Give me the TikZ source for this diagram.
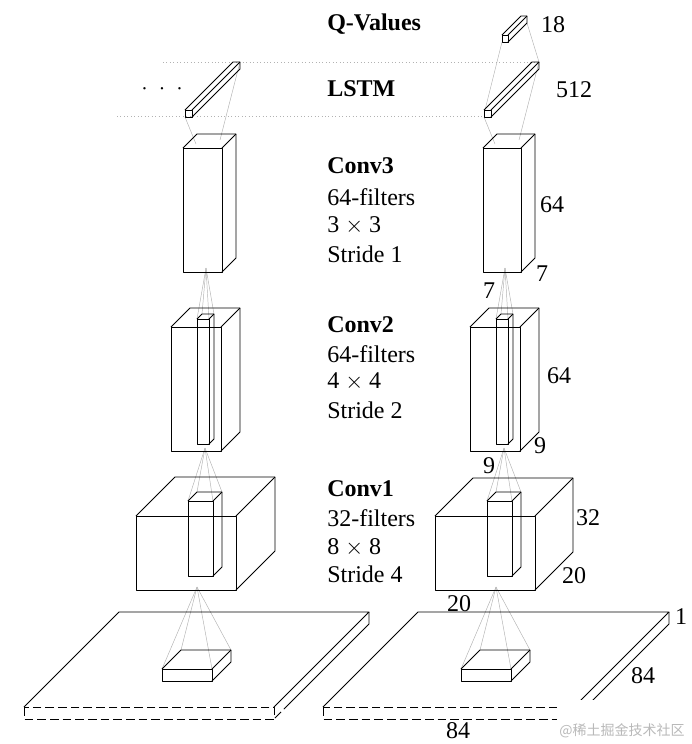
\documentclass[tikz,border=0pt]{standalone}
\usepackage{fontspec}
\setmainfont{Liberation Serif}
\newfontfamily\cjkwm{Noto Sans CJK SC}
\newcommand\cub[5]{%
  \draw[box] (#1,#2) rectangle ++(#3,#4);
  \draw[box] (#1,#2) -- ++(#5,-#5) -- ++(#3,0) -- ++(0,#4) -- ++(-#5,#5);
  \draw[box] (#1+#3,#2) -- ++(#5,-#5);
}
\newcommand\fan[6]{%
  \draw[proj] (#1,#2) -- (#3,#4);
  \draw[proj] (#1,#2) -- (#3+#5,#4);
  \draw[proj] (#1,#2) -- (#3+#6,#4-#6);
  \draw[proj] (#1,#2) -- (#3+#5+#6,#4-#6);
}
\newcommand\slab[2]{%
  \draw[box] (#1,707) -- ++(95,-95) -- ++(#2,0) -- ++(-95,95);
  \draw[box] (#1+#2+95,612) -- ++(0,12) -- ++(-79,79);
  \draw[box,dashes] (#1+#2+16,703) -- ++(-16,16);
  \draw[box,dashes] (#1,707) rectangle ++(#2,12);
}
\begin{document}
\begin{tikzpicture}[x=0.75pt,y=-0.75pt,
  box/.style={line width=0.65pt, line join=round},
  dashes/.style={dash pattern=on 6.5pt off 3pt},
  proj/.style={gray!60, line width=0.35pt},
  guide/.style={gray!60, dotted, line width=0.6pt},
  lbl/.style={font=\fontsize{18}{21}\selectfont, inner sep=0pt},
  ttl/.style={font=\fontsize{18}{21}\selectfont\bfseries, inner sep=0pt, anchor=west},
  txt/.style={font=\fontsize{18}{21}\selectfont, inner sep=0pt, anchor=west}]
\useasboundingbox (0,0) rectangle (692,744);

% guide lines for LSTM plane
\draw[guide] (163,62) -- (538,62);
\draw[guide] (117,116) -- (484,116);

% ---------- projection lines ----------
\foreach \s in {0,299}{
  \begin{scope}[xshift=\s*0.75pt]
    \fan{197}{587}{162}{669}{50}{19}
    \fan{205}{448}{188}{501}{25}{9}
    \fan{206}{268}{197}{319}{12}{5}
    \draw[proj] (185,117) -- (196,144);
    \draw[proj] (240,62) -- (220,140);
  \end{scope}
}
\draw[proj] (502,42) -- (485,110);
\draw[proj] (527,23) -- (539,62);

% ---------- left column ----------
\slab{24}{250}
\cub{162}{669}{50}{12}{19}
\cub{136}{516}{100}{74}{39}
\cub{188}{501}{25}{75}{9}
\cub{171}{327}{50}{124}{19}
\cub{197}{319}{12}{125}{5}
\cub{183}{148}{39}{124}{14}
\cub{185}{110}{7}{7}{48}

% ---------- right column ----------
\slab{323}{251}
\cub{461}{669}{50}{12}{19}
\cub{435}{516}{100}{74}{38}
\cub{487}{501}{25}{75}{9}
\cub{470}{327}{50}{124}{19}
\cub{496}{319}{12}{125}{5}
\cub{483}{148}{38}{124}{14}
\cub{484}{110}{7}{7}{48}
\cub{502}{35}{6}{7}{19}

% ---------- labels ----------
\node[ttl] (qv) at (327,24) {Q-Values};
\node[ttl] (lstm) at (327,89) {LSTM};
\node[lbl] (dots) at (162,89) {$\cdot\ \cdot\ \cdot$};

\node[ttl] (c3) at (327,166) {Conv3};
\node[txt] (c3a) at (327,197) {64-filters};
\node[txt] (c3b) at (327,226) {3 $\times$ 3};
\node[txt] (c3c) at (327,254) {Stride 1};

\node[ttl] (c2) at (327,325) {Conv2};
\node[txt] (c2a) at (327,354) {64-filters};
\node[txt] (c2b) at (327,382) {4 $\times$ 4};
\node[txt] (c2c) at (327,410) {Stride 2};

\node[ttl] (c1) at (327,489) {Conv1};
\node[txt] (c1a) at (327,518) {32-filters};
\node[txt] (c1b) at (327,547) {8 $\times$ 8};
\node[txt] (c1c) at (327,574) {Stride 4};

\node[lbl] (n18) at (553,25) {18};
\node[lbl] (n512) at (574,90) {512};
\node[lbl] (n64a) at (552,205) {64};
\node[lbl] (n7a) at (542,274) {7};
\node[lbl] (n7b) at (489,291) {7};
\node[lbl] (n64b) at (559,376) {64};
\node[lbl] (n9a) at (540,446) {9};
\node[lbl] (n9b) at (489,466) {9};
\node[lbl] (n32) at (588,518) {32};
\node[lbl] (n20a) at (574,576) {20};
\node[lbl] (n20b) at (459,604) {20};
\node[lbl] (n1) at (681,617) {1};
\node[lbl] (n84a) at (643,676) {84};
\node[lbl] (n84b) at (458,731) {84};

% watermark
\fill[white] (557,700) rectangle (692,744);
\node[font=\cjkwm\fontsize{10.5}{12}\selectfont, text=gray!55, inner sep=0pt] (wm) at (622,731) {@稀土掘金技术社区};
\end{tikzpicture}
\end{document}
